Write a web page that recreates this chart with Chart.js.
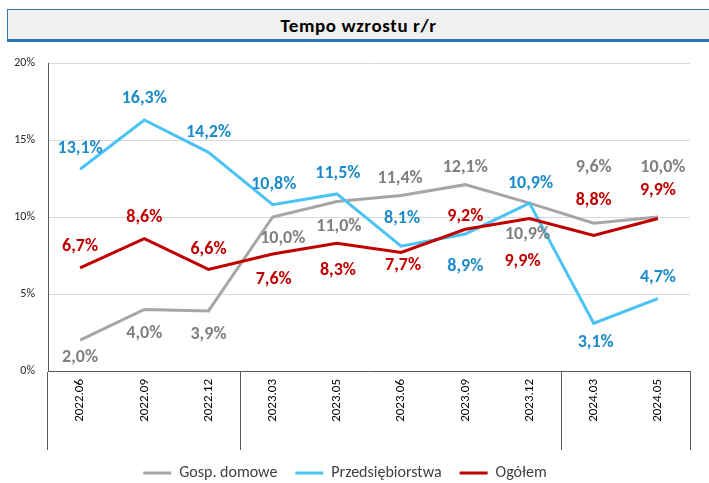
<!DOCTYPE html>
<html>
<head>
<meta charset="utf-8">
<script src="https://cdn.jsdelivr.net/npm/chart.js@4.4.1/dist/chart.umd.min.js"></script>
<style>
  html, body { margin: 0; padding: 0; background: #ffffff; }
  #wrap { position: relative; width: 709px; height: 483px; overflow: hidden; }
  #title {
    position: absolute; left: 7px; top: 9px; width: 720px; height: 29px;
    background: #f0f0f0; border-top: 1px solid #2e75b6; border-left: 1px solid #2e75b6;
    border-bottom: 3px solid #2e75b6; box-sizing: content-box;
  }
  #title span {
    position: absolute; left: 0; width: 701px; top: 0; height: 29px; line-height: 31px;
    text-align: center; font-family: Carlito, Lato, sans-serif; font-weight: bold; font-size: 19px;
    letter-spacing: 0.6px; color: #000;
  }
  #c { position: absolute; left: 0; top: 0; }
</style>
</head>
<body>
<div id="wrap">
  <div id="title"><span>Tempo wzrostu r/r</span></div>
  <canvas id="c" width="709" height="483"></canvas>
</div>
<script>
const categories = ['2022.06','2022.09','2022.12','2023.03','2023.05','2023.06','2023.09','2023.12','2024.03','2024.05'];
const seriesNames = ['Gosp. domowe', 'Przedsiębiorstwa', 'Ogółem'];
const gospDomowe = [2.0, 4.0, 3.9, 10.0, 11.0, 11.4, 12.1, 10.9, 9.6, 10.0];
const przedsiebiorstwa = [13.1, 16.3, 14.2, 10.8, 11.5, 8.1, 8.9, 10.9, 3.1, 4.7];
const ogolem = [6.7, 8.6, 6.6, 7.6, 8.3, 7.7, 9.2, 9.9, 8.8, 9.9];
const yTicks = [0, 5, 10, 15, 20];
// category indices where a group separator line starts (plus the axis ends)
const groupStarts = [0, 3, 8];

// label placement offsets (px) per series, relative to the point
const labelOffsets = [
  [[0,17],[0,24],[0,24],[10,21],[2,25],[-1,-17],[0,-17],[-2,31],[0,-56],[5,-50]],
  [[0,-21],[0,-21],[0,-20],[1,-20],[1,-20],[1,-28],[0,33],[1,-20],[2,19],[0,-21]],
  [[0,-21],[0,-21],[0,-20],[1,26],[1,27],[2,13],[0,-13],[-7,43],[0,-35],[0,-28]]
];
const lineColors = ['#a6a6a6', '#4cc3f5', '#c00000'];
const labelColors = ['#7f7f7f', '#1b8bcb', '#c00000'];
const FONT = 'Carlito, Lato, sans-serif';

const dataLabelPlugin = {
  id: 'dataLabelPlugin',
  afterDatasetsDraw(chart) {
    const ctx = chart.ctx;
    ctx.save();
    ctx.font = 'bold 18px ' + FONT;
    ctx.textAlign = 'center';
    ctx.textBaseline = 'middle';
    chart.data.datasets.forEach((ds, di) => {
      const meta = chart.getDatasetMeta(di);
      meta.data.forEach((pt, i) => {
        const off = labelOffsets[di][i];
        const txt = ds.data[i].toFixed(1).replace('.', ',') + '%';
        ctx.fillStyle = labelColors[di];
        ctx.fillText(txt, pt.x + off[0], pt.y + off[1]);
      });
    });
    ctx.restore();
  }
};

const datasets = [gospDomowe, przedsiebiorstwa, ogolem].map((d, i) => ({
  label: seriesNames[i],
  data: d,
  borderColor: lineColors[i],
  backgroundColor: lineColors[i],
  borderWidth: 3,
  pointRadius: 0,
  pointHoverRadius: 0,
  tension: 0,
  fill: false,
  order: 3 - i
}));

new Chart(document.getElementById('c'), {
  type: 'line',
  data: { labels: categories, datasets },
  options: {
    responsive: false,
    animation: false,
    layout: { padding: { top: 63, right: 19, left: 0, bottom: -8 } },
    plugins: {
      legend: {
        position: 'bottom',
        labels: {
          usePointStyle: true,
          pointStyle: 'line',
          pointStyleWidth: 28,
          boxHeight: 3,
          padding: 18,
          color: '#404040',
          font: { family: FONT, size: 16 },
          sort: (a, b) => a.datasetIndex - b.datasetIndex
        }
      },
      tooltip: { enabled: false }
    },
    scales: {
      x: {
        offset: true,
        border: { display: true, color: '#595959', width: 1 },
        grid: {
          offset: true,
          drawOnChartArea: false,
          drawTicks: true,
          tickLength: 79,
          lineWidth: 1,
          color: (c) => (c.index === undefined || groupStarts.includes(c.index)) ? '#595959' : 'rgba(0,0,0,0)'
        },
        ticks: {
          autoSkip: false,
          maxRotation: 90,
          minRotation: 90,
          padding: -71,
          color: '#000000',
          font: { family: FONT, size: 13 }
        },
        afterFit: (s) => { s.height = 76; }
      },
      y: {
        min: 0,
        max: 20,
        border: { display: true, color: '#595959', width: 1 },
        grid: {
          color: (c) => c.tick && c.tick.value === 0 ? 'rgba(0,0,0,0)' : '#d9d9d9',
          lineWidth: 1,
          drawTicks: false
        },
        afterBuildTicks: (s) => { s.ticks = yTicks.map(v => ({ value: v })); },
        ticks: {
          padding: 13,
          color: '#262626',
          font: { family: FONT, size: 12 },
          callback: (v) => v + '%'
        },
        afterFit: (s) => { s.width = 48; }
      }
    }
  },
  plugins: [dataLabelPlugin]
});
</script>
</body>
</html>
